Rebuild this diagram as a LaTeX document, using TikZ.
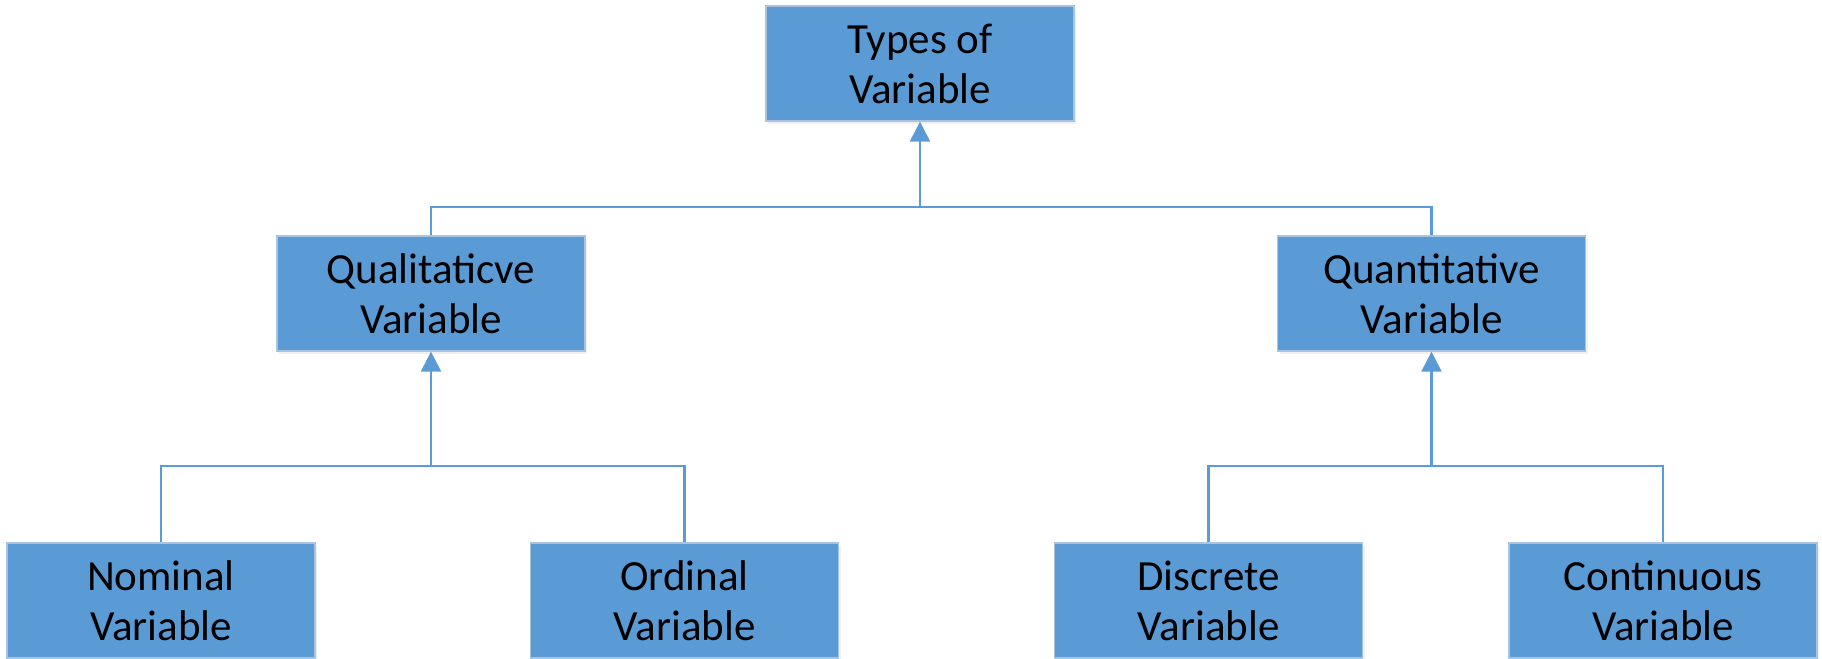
\documentclass[tikz,border=0pt]{standalone}
\usepackage{fontspec}
\setmainfont{Carlito}
\usetikzlibrary{arrows.meta, positioning, shadows}
\definecolor{boxblue}{HTML}{5B9BD5}
\definecolor{boxline}{HTML}{A9C4DF}
\tikzset{
  vbox/.style={rectangle, fill=boxblue, draw=boxline, line width=0.6pt,
    minimum width=154pt, minimum height=57.5pt, align=center,
    font=\fontsize{21.5}{25}\selectfont,
    drop shadow={opacity=0.12, shadow xshift=1pt, shadow yshift=-1.5pt}},
  link/.style={draw=boxblue, line width=1.1pt},
  uparrow/.style={link, -{Triangle[width=10pt,length=10pt]}}
}

\begin{document}
\begin{tikzpicture}[x=0.5pt, y=-0.5pt]
			\useasboundingbox (0,0) rectangle (1822,659);
			% boxes
			\node[vbox] (types) at (920,63.5) {Types of\\Variable};
			\node[vbox] (qual) at (431,293.5) {Qualitaticve\\Variable};
			\node[vbox] (quan) at (1431.5,293.5) {Quantitative\\Variable};
			\node[vbox] (nom) at (161,600.5) {Nominal\\Variable};
			\node[vbox] (ord) at (684.5,600.5) {Ordinal\\Variable};
			\node[vbox] (disc) at (1208.5,600.5) {Discrete\\Variable};
			\node[vbox] (cont) at (1663,600.5) {Continuous\\Variable};
			% junctions
			\coordinate (jtop) at (920,207);
			\coordinate (jqual) at (431,466);
			\coordinate (jquan) at (1431.5,466);
			% connectors
			\draw[link] (qual.north) |- (jtop) -| (quan.north);
			\draw[uparrow] (jtop) -- (types.south);
			\draw[link] (nom.north) |- (jqual) -| (ord.north);
			\draw[uparrow] (jqual) -- (qual.south);
			\draw[link] (disc.north) |- (jquan) -| (cont.north);
			\draw[uparrow] (jquan) -- (quan.south);
		\end{tikzpicture}
\end{document}
